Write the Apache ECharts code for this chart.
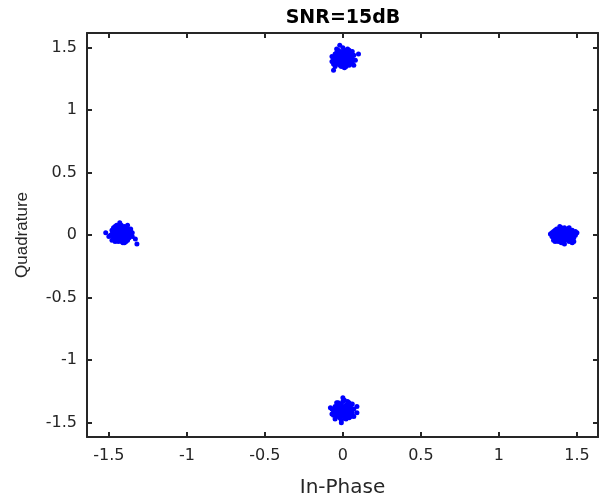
<!DOCTYPE html>
<html>
<head>
<meta charset="utf-8">
<script src="https://cdn.jsdelivr.net/npm/echarts@6/dist/echarts.min.js"></script>
<style>html,body{margin:0;padding:0;background:#fff}#c{width:599px;height:503px}</style>
</head>
<body>
<div id="c"></div>
<script>
var titleText = 'SNR=15dB';
var xName = 'In-Phase';
var yName = 'Quadrature';
var tickValues = [-1.5, -1, -0.5, 0, 0.5, 1, 1.5];

var clusterTop = [[0.01,1.43],[-0.03,1.40],[0.04,1.45],[-0.05,1.38],[0.02,1.47],[0.06,1.41],[-0.02,1.36],[-0.02,1.52],[-0.04,1.44],[0.03,1.39],[-0.06,1.42],[0.05,1.37],[0.01,1.40],[-0.01,1.46],[0.07,1.44],[-0.03,1.48],[0.02,1.35],[-0.07,1.39],[0.04,1.42],[0.00,1.38],[-0.02,1.42],[0.03,1.49],[0.08,1.40],[-0.05,1.45],[0.01,1.36],[-0.04,1.37],[0.05,1.46],[0.02,1.41],[-0.01,1.39],[0.06,1.38],[-0.03,1.43],[0.00,1.44],[0.04,1.36],[-0.06,1.40],[0.03,1.43],[-0.02,1.47],[0.01,1.34],[0.10,1.45],[-0.06,1.32],[0.07,1.36],[-0.01,1.41],[0.02,1.44],[-0.04,1.41],[0.05,1.40],[0.00,1.42],[-0.05,1.35],[0.03,1.37],[0.06,1.47],[-0.02,1.38],[0.01,1.48],[0.04,1.48],[-0.07,1.43],[0.02,1.39],[-0.03,1.46],[-0.01,1.35],[0.00,1.50],[0.05,1.43],[-0.04,1.49],[0.02,1.42],[-0.02,1.44],[0.03,1.41],[-0.03,1.38],[0.01,1.45],[-0.01,1.37],[0.04,1.39],[0.00,1.40],[-0.05,1.42],[0.05,1.44],[0.02,1.37],[-0.02,1.40],[0.01,1.38],[-0.04,1.46],[0.03,1.46],[0.06,1.43],[-0.06,1.37]];
var clusterBottom = [[0.01,-1.40],[-0.03,-1.43],[0.04,-1.38],[-0.05,-1.41],[0.02,-1.36],[0.06,-1.42],[-0.02,-1.46],[0.00,-1.30],[-0.04,-1.37],[0.03,-1.44],[-0.06,-1.40],[0.05,-1.45],[0.01,-1.42],[-0.01,-1.35],[0.07,-1.39],[-0.03,-1.34],[0.02,-1.47],[-0.07,-1.43],[0.04,-1.41],[0.00,-1.44],[-0.02,-1.40],[0.03,-1.33],[0.09,-1.37],[-0.05,-1.37],[0.01,-1.46],[-0.04,-1.45],[0.05,-1.36],[0.02,-1.41],[-0.01,-1.43],[0.06,-1.44],[-0.03,-1.39],[0.00,-1.38],[0.04,-1.46],[-0.06,-1.42],[0.03,-1.39],[-0.02,-1.35],[-0.01,-1.50],[0.09,-1.42],[-0.08,-1.38],[0.07,-1.45],[-0.01,-1.41],[0.02,-1.38],[-0.04,-1.41],[0.05,-1.42],[0.00,-1.40],[-0.05,-1.47],[0.03,-1.45],[0.06,-1.35],[-0.02,-1.44],[0.01,-1.32],[-0.07,-1.39],[0.02,-1.43],[-0.03,-1.36],[0.04,-1.34],[-0.01,-1.48],[0.00,-1.33],[0.05,-1.39],[-0.04,-1.34],[0.02,-1.40],[-0.02,-1.42],[0.03,-1.42],[-0.03,-1.41],[0.01,-1.37],[-0.01,-1.39],[0.04,-1.43],[0.00,-1.42],[-0.05,-1.43],[0.05,-1.40],[0.02,-1.45],[-0.02,-1.37],[0.01,-1.44],[-0.04,-1.39],[0.03,-1.36],[0.06,-1.39],[-0.06,-1.44]];
var clusterLeft = [[-1.43,0.01],[-1.46,-0.02],[-1.40,0.04],[-1.48,-0.04],[-1.41,0.06],[-1.45,0.02],[-1.38,-0.03],[-1.43,0.10],[-1.44,-0.05],[-1.40,0.00],[-1.47,0.03],[-1.39,-0.05],[-1.42,-0.01],[-1.36,0.03],[-1.44,0.05],[-1.49,0.00],[-1.37,-0.02],[-1.46,0.07],[-1.41,-0.03],[-1.43,0.04],[-1.42,0.02],[-1.38,0.05],[-1.52,0.02],[-1.45,-0.01],[-1.40,-0.06],[-1.47,-0.03],[-1.39,0.02],[-1.44,0.01],[-1.41,0.03],[-1.35,-0.01],[-1.46,0.04],[-1.43,-0.03],[-1.40,0.07],[-1.48,0.01],[-1.42,0.05],[-1.37,0.01],[-1.33,-0.03],[-1.32,-0.07],[-1.45,0.08],[-1.42,-0.05],[-1.44,-0.02],[-1.39,-0.01],[-1.47,0.06],[-1.41,0.00],[-1.43,0.06],[-1.38,0.08],[-1.46,-0.05],[-1.40,0.02],[-1.36,0.05],[-1.50,-0.01],[-1.42,0.08],[-1.45,0.05],[-1.39,0.04],[-1.44,0.03],[-1.41,-0.06],[-1.47,-0.02],[-1.35,0.02],[-1.38,-0.04],[-1.42,0.00],[-1.44,0.02],[-1.40,-0.02],[-1.43,-0.01],[-1.41,0.04],[-1.45,0.00],[-1.39,0.01],[-1.42,0.03],[-1.46,0.01],[-1.40,0.05],[-1.43,0.02],[-1.37,0.03],[-1.44,-0.04],[-1.41,-0.02],[-1.48,0.04],[-1.38,0.00]];
var clusterRight = [[1.41,0.00],[1.38,-0.02],[1.44,0.02],[1.36,-0.03],[1.43,0.04],[1.39,0.01],[1.46,-0.03],[1.35,0.03],[1.40,-0.04],[1.45,0.01],[1.37,0.02],[1.42,-0.02],[1.34,-0.01],[1.47,0.02],[1.40,0.03],[1.44,-0.04],[1.38,0.04],[1.43,-0.01],[1.36,0.01],[1.41,0.02],[1.39,-0.03],[1.46,0.04],[1.42,0.06],[1.37,-0.04],[1.45,-0.02],[1.33,0.01],[1.40,0.01],[1.43,0.03],[1.38,0.00],[1.49,0.00],[1.41,-0.05],[1.35,-0.02],[1.44,0.00],[1.39,0.05],[1.42,0.01],[1.36,0.04],[1.47,-0.03],[1.40,-0.01],[1.45,0.03],[1.37,0.00],[1.43,-0.03],[1.39,0.02],[1.41,0.04],[1.34,0.02],[1.46,0.01],[1.38,-0.05],[1.42,-0.04],[1.40,0.06],[1.44,0.05],[1.48,-0.02],[1.36,-0.05],[1.43,0.02],[1.39,-0.02],[1.45,-0.05],[1.41,0.03],[1.37,0.05],[1.47,0.04],[1.42,-0.01],[1.50,0.02],[1.48,-0.05],[1.35,-0.04],[1.40,-0.06],[1.44,0.03],[1.38,0.02],[1.42,0.03],[1.40,0.00],[1.43,0.00],[1.39,-0.01],[1.45,-0.01],[1.37,-0.01],[1.41,-0.03],[1.44,-0.02],[1.46,-0.01],[1.38,0.03],[1.49,0.03],[1.42,-0.07],[1.39,0.07],[1.45,0.06],[1.47,-0.06]];

var axisColor = '#262626';
var font = 'DejaVu Sans, Verdana, sans-serif';

function mkX(pos, show) {
  return {
    type: 'value', position: pos, min: -1.64, max: 1.635,
    splitLine: {show: false},
    axisLine: {show: true, onZero: false, lineStyle: {color: axisColor, width: 2}},
    axisTick: {show: true, inside: true, length: 5, customValues: tickValues, lineStyle: {color: axisColor, width: 2}},
    axisLabel: {show: show, customValues: tickValues, margin: 11, color: '#262626', fontSize: 16, fontFamily: font,
      formatter: function (v) { return String(v); }},
    name: show ? xName : '', nameLocation: 'middle', nameGap: 41,
    nameTextStyle: {color: '#262626', fontSize: 20, fontFamily: font}
  };
}
function mkY(pos, show) {
  return {
    type: 'value', position: pos, min: -1.615, max: 1.618,
    splitLine: {show: false},
    axisLine: {show: true, onZero: false, lineStyle: {color: axisColor, width: 2}},
    axisTick: {show: true, inside: true, length: 5, customValues: tickValues, lineStyle: {color: axisColor, width: 2}},
    axisLabel: {show: show, customValues: tickValues, margin: 10, color: '#262626', fontSize: 16, fontFamily: font,
      formatter: function (v) { return String(v); }},
    name: show ? yName : '', nameLocation: 'middle', nameGap: 56,
    nameTextStyle: {color: '#262626', fontSize: 17, fontFamily: 'Liberation Sans, Arial, sans-serif'}
  };
}

function ser(d) {
  return {type: 'scatter', data: d, symbol: 'circle', symbolSize: 5,
    itemStyle: {color: '#0000ff', opacity: 1}, xAxisIndex: 0, yAxisIndex: 0, silent: true, animation: false};
}

var chart = echarts.init(document.getElementById('c'), null, {renderer: 'canvas'});
chart.setOption({
  backgroundColor: '#ffffff',
  animation: false,
  title: {text: titleText, left: 338, top: 4, textAlign: 'center',
    textStyle: {fontSize: 19, fontWeight: 'bold', color: '#000', fontFamily: font}},
  grid: {left: 87, right: 1, top: 33, bottom: 61, containLabel: false},
  xAxis: [mkX('bottom', true), mkX('top', false)],
  yAxis: [mkY('left', true), mkY('right', false)],
  series: [ser(clusterTop), ser(clusterBottom), ser(clusterLeft), ser(clusterRight)]
});
</script>
</body>
</html>
